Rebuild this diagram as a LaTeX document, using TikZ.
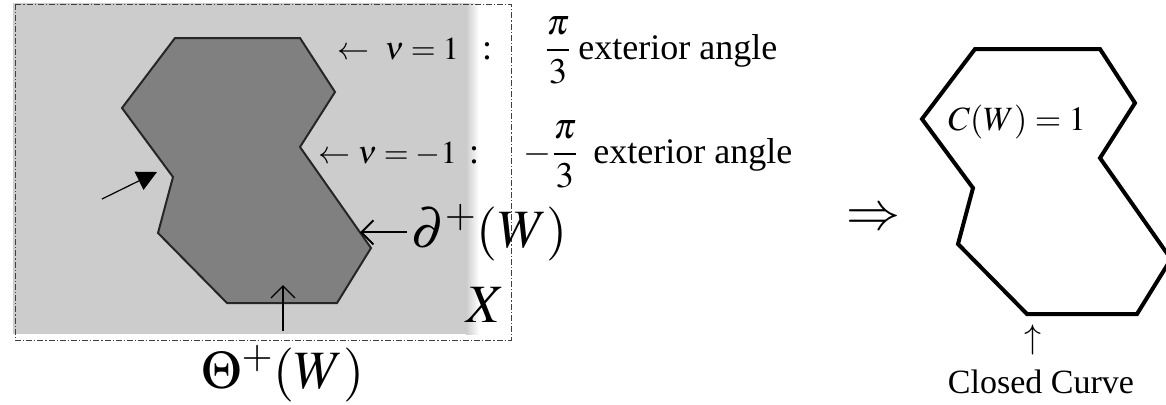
\documentclass[tikz,border=0pt]{standalone}
\usepackage{amsmath}
\usepackage{mathptmx}
\usepackage[no-math]{fontspec}
\setmainfont{Liberation Serif}
\usetikzlibrary{arrows.meta}

\newcommand{\wshape}{(175,38) -- (300,38) -- (335,92) -- (300,147) -- (371,248) -- (337,303) -- (227,303) -- (158,233) -- (173,177) -- (122,108) -- cycle}

\begin{document}
\begin{tikzpicture}[
    x=0.5pt, y=-0.5pt,
    frame/.style={draw=black!75, line width=0.5pt, dash pattern=on 3pt off 1pt on 0.6pt off 1pt},
    region/.style={fill=black!50, draw=black!85, line width=1pt, line join=miter},
    curve/.style={draw=black, line width=2pt, line join=miter},
    nulab/.style={inner sep=0pt, font=\fontsize{16}{18}\selectfont},
    lab/.style={inner sep=0pt, font=\fontsize{18}{20}\selectfont},
    midlab/.style={inner sep=0pt, font=\fontsize{17}{19}\selectfont},
    biglab/.style={inner sep=0pt, font=\fontsize{27}{30}\selectfont},
    ptr/.style={-{Straight Barb[length=6pt,width=12pt]}, line width=0.8pt},
    tri/.style={-{Triangle[length=10pt,width=10pt]}, line width=0.6pt}
]
\useasboundingbox (0,0) rectangle (1166,404);

\fill[black!20] (13,3) rectangle (466,334);
\shade[left color=black!20, right color=white] (466,3) rectangle (479,334);
\draw[frame] (15,4) rectangle (511,340);
\draw[region] \wshape;
\draw[curve, shift={(800,11)}] \wshape;

\node[nulab, anchor=base west] (vone) at (337,59) {$\leftarrow\ \nu=1$};
\node[lab, anchor=base] (cone) at (487,59) {:};
\node[lab, anchor=base] (fone) at (558,59) {$\dfrac{\pi}{3}$};
\node[lab, anchor=base west] (eone) at (578,59) {exterior angle};

\node[nulab, anchor=base west] (vtwo) at (318,163) {$\leftarrow\nu=-1$};
\node[lab, anchor=base] (ctwo) at (474,163) {:};
\node[lab, anchor=base east] (ftwo) at (579,163) {$-\dfrac{\pi}{3}$};
\node[lab, anchor=base west] (etwo) at (593,163) {exterior angle};

\node[biglab, anchor=base west] (bdry) at (411,247) {$\partial^{+}(W)$};
\coordinate (btip) at (360,235);
\draw[ptr, line width=1pt] ([xshift=-2pt]bdry.west) -- (bdry.west -| btip);

\node[biglab, anchor=base] (xlab) at (486,322) {$X$};

\node[biglab, anchor=base] (theta) at (283,388) {$\Theta^{+}(W)$};
\coordinate (ttip) at (283,285);
\draw[ptr, line width=0.7pt] ([yshift=7pt]theta.north) -- (theta.north |- ttip);

\coordinate (ttail) at (102,199);
\coordinate (notch) at (157,172);
\draw[tri] (ttail) -- (notch);

\node[biglab] (impl) at (873,220) {$\Rightarrow$};
\node[midlab, anchor=base west] (cw) at (948,130) {$C(W)=1$};
\node[midlab] (ccup) at (1033,340) {$\uparrow$};
\node[midlab, anchor=base] (cc) at (1041,393) {Closed Curve};
\end{tikzpicture}
\end{document}
